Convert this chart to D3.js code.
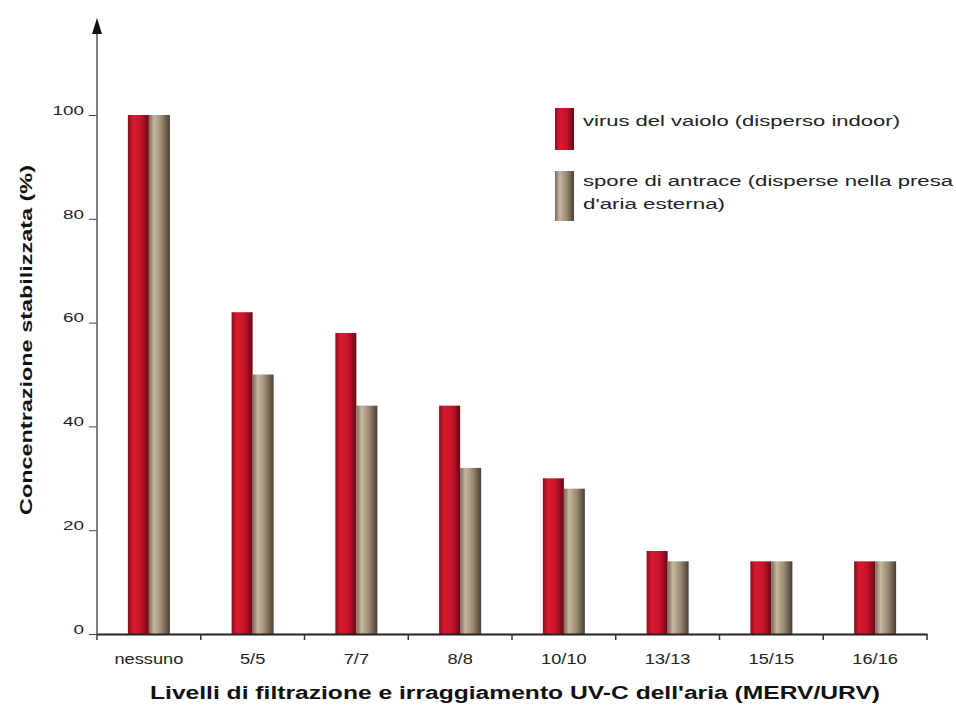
<!DOCTYPE html>
<html><head><meta charset="utf-8">
<script src="https://cdn.jsdelivr.net/npm/d3@7"></script>
<style>body{margin:0;background:#fff}svg{display:block;font-family:"Liberation Sans",Arial,sans-serif}</style>
</head><body>
<script>
const categories = ["nessuno","5/5","7/7","8/8","10/10","13/13","15/15","16/16"];
const virus = [100,62,58,44,30,16,14,14];
const spore = [100,50,44,32,28,14,14,14];
const seriesNames = ["virus del vaiolo (disperso indoor)","spore di antrace (disperse nella presa d'aria esterna)"];
const yTicks = [0,20,40,60,80,100];

const W=956,H=709;
const svg=d3.select("body").append("svg").attr("width",W).attr("height",H);
const defs=svg.append("defs");
function grad(id,stops){const g=defs.append("linearGradient").attr("id",id).attr("x1","0").attr("x2","1").attr("y1","0").attr("y2","0");
 stops.forEach(s=>g.append("stop").attr("offset",s[0]).attr("stop-color",s[1]));}
grad("gRed",[[0,"#8a0c1a"],[0.25,"#d81a30"],[0.6,"#c8142a"],[1,"#6a0812"]]);
grad("gBrown",[[0,"#7a6a58"],[0.25,"#c8b6a0"],[0.6,"#9a8a74"],[1,"#4a3e32"]]);
function stretch(sel,f){sel.each(function(){const n=this;const L=n.getComputedTextLength();
  d3.select(n).attr("textLength",L*f).attr("lengthAdjust","spacingAndGlyphs");});}

const x0=97,x1=927,yBase=634,yTop=115;
const x=d3.scaleBand().domain(categories).range([x0,x1]);
const y=d3.scaleLinear().domain([0,100]).range([yBase,yTop]);
const bw=21;

const data=categories.map((c,i)=>({c,v:[virus[i],spore[i]]}));
const g=svg.append("g");
data.forEach(d=>{
  const cx=x(d.c)+x.bandwidth()/2;
  g.append("rect").attr("x",cx-bw).attr("width",bw).attr("y",y(d.v[0])).attr("height",yBase-y(d.v[0])).attr("fill","url(#gRed)");
  g.append("rect").attr("x",cx).attr("width",bw).attr("y",y(d.v[1])).attr("height",yBase-y(d.v[1])).attr("fill","url(#gBrown)");
});

// y axis
const ya=svg.append("g").attr("transform",`translate(${x0},0)`)
 .call(d3.axisLeft(y).tickValues(yTicks).tickSize(8).tickPadding(5));
ya.select(".domain").remove();
ya.selectAll("text").attr("font-size",13).attr("fill","#222").attr("dy","-0.05em");
ya.selectAll("line").attr("stroke","#444");
stretch(ya.selectAll("text"),1.45);
svg.append("line").attr("x1",x0).attr("x2",x0).attr("y1",yBase).attr("y2",32).attr("stroke","#555").attr("stroke-width",1.5);
svg.append("path").attr("d",`M${x0},18 L${x0-5},34 L${x0+5},34 Z`).attr("fill","#111");

// x axis
const xa=svg.append("g").attr("transform",`translate(0,${yBase})`)
 .call(d3.axisBottom(x).tickSize(0).tickPadding(20));
xa.select(".domain").attr("stroke","#222").attr("stroke-width",2);
xa.selectAll("text").attr("font-size",14).attr("fill","#222");
stretch(xa.selectAll("text"),1.3);
const bounds=categories.map(c=>x(c)).concat([x1]);
svg.append("g").selectAll("line").data(bounds).join("line")
 .attr("x1",d=>d).attr("x2",d=>d).attr("y1",yBase).attr("y2",yBase+6).attr("stroke","#333").attr("stroke-width",1.5);

// titles
const xt=svg.append("text").attr("x",515).attr("y",699).attr("text-anchor","middle").attr("font-size",18).attr("font-weight","bold").attr("fill","#111")
 .text("Livelli di filtrazione e irraggiamento UV-C dell'aria (MERV/URV)");
xt.attr("textLength",730).attr("lengthAdjust","spacingAndGlyphs");
const yt=svg.append("text").attr("transform","translate(32,340) rotate(-90)").attr("text-anchor","middle").attr("font-size",17).attr("font-weight","bold").attr("fill","#111")
 .text("Concentrazione stabilizzata (%)");
yt.attr("textLength",350).attr("lengthAdjust","spacingAndGlyphs");

// legend
const lg=svg.append("g");
lg.append("rect").attr("x",555).attr("y",108).attr("width",19).attr("height",42).attr("fill","url(#gRed)");
lg.append("rect").attr("x",555).attr("y",171).attr("width",19).attr("height",50).attr("fill","url(#gBrown)");
lg.append("text").attr("x",583).attr("y",126).attr("font-size",14).attr("fill","#222").text(seriesNames[0])
 .attr("textLength",317).attr("lengthAdjust","spacingAndGlyphs");
lg.append("text").attr("x",583).attr("y",186).attr("font-size",14).attr("fill","#222").text("spore di antrace (disperse nella presa")
 .attr("textLength",370).attr("lengthAdjust","spacingAndGlyphs");
lg.append("text").attr("x",583).attr("y",209).attr("font-size",14).attr("fill","#222").text("d'aria esterna)")
 .attr("textLength",142).attr("lengthAdjust","spacingAndGlyphs");
</script>
</body></html>
